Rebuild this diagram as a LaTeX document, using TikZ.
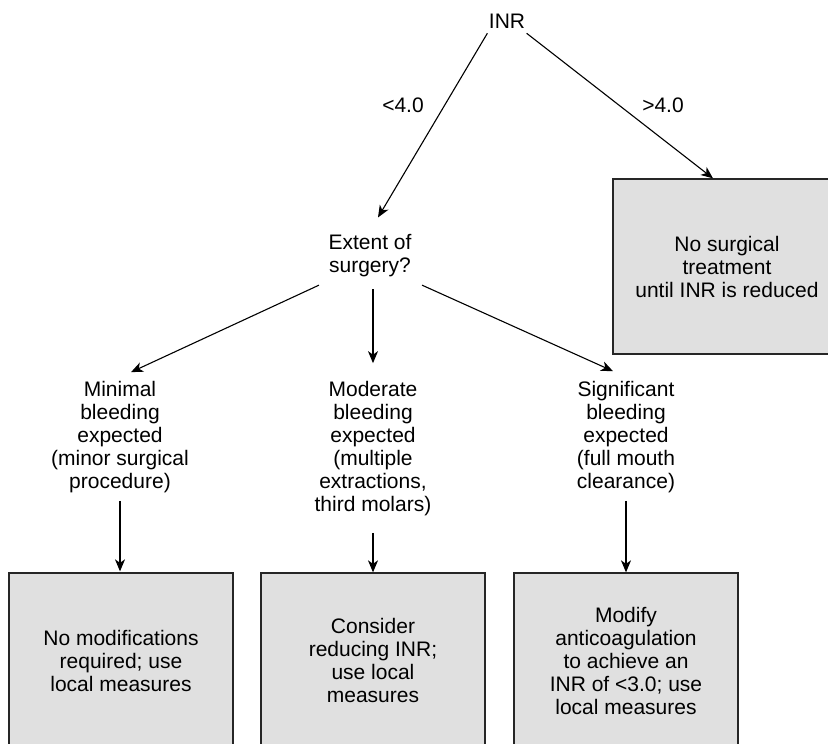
\documentclass[tikz,border=0pt]{standalone}
\usepackage{fontspec}
\setmainfont{Liberation Sans}
\usetikzlibrary{arrows.meta}
\definecolor{boxgray}{HTML}{E0E0E0}
\begin{document}
\begin{tikzpicture}[x=1pt,y=-1pt,line width=1.1pt,
  txt/.style={align=center,inner sep=4pt,font=\fontsize{21}{23}\selectfont},
  outcome/.style={txt,draw=black!85,fill=boxgray,line width=1.3pt,minimum width=224pt,minimum height=175pt},
  arr/.style={-{Stealth[length=12pt,width=10pt,inset=3.5pt]}}]
\useasboundingbox (0,0) rectangle (828,744);
\clip (0,0) rectangle (828,744);
\node[txt] (inr) at (507,21.5) {INR};
\node[txt] (lt) at (403,105.5) {<4.0};
\node[txt] (gt) at (663,105.5) {>4.0};
\node[txt] (ext) at (370,255.3) {Extent of\\surgery?};
\node[outcome,minimum width=228pt] (nosurg) at (727,266.5) {No surgical\\treatment\\until INR is reduced};
\node[txt] (minimal) at (120,437.5) {Minimal\\bleeding\\expected\\(minor surgical\\procedure)};
\node[txt] (moderate) at (373,449) {Moderate\\bleeding\\expected\\(multiple\\extractions,\\third molars)};
\node[txt] (significant) at (626,437.5) {Significant\\bleeding\\expected\\(full mouth\\clearance)};
\node[outcome] (box1) at (121,660.5) {No modifications\\required; use\\local measures};
\node[outcome] (box2) at (373,660.5) {Consider\\reducing INR;\\use local\\measures};
\node[outcome] (box3) at (626,660.5) {Modify\\anticoagulation\\to achieve an\\INR of <3.0; use\\local measures};
\draw[arr] ([xshift=3pt]inr.south west) -- ([shift={(8,-12)}]ext.north);
\draw[arr] ([xshift=-3pt]inr.south east) -- ([xshift=-14pt]nosurg.north);
\draw[arr] ([shift={(-5,4)}]ext.south west) -- ([shift={(11,-5)}]minimal.north);
\draw[arr] ([shift={(3,8)}]ext.south) -- ([yshift=14pt]moderate.north);
\draw[arr] ([shift={(6,4)}]ext.south east) -- ([shift={(-13,-6)}]significant.north);
\draw[arr] ([yshift=-3pt]minimal.south) -- ([yshift=1pt]box1.north -| minimal.south);
\draw[arr] ([yshift=-12pt]moderate.south) -- (box2.north);
\draw[arr] ([yshift=-3pt]significant.south) -- (box3.north);
\end{tikzpicture}
\end{document}
